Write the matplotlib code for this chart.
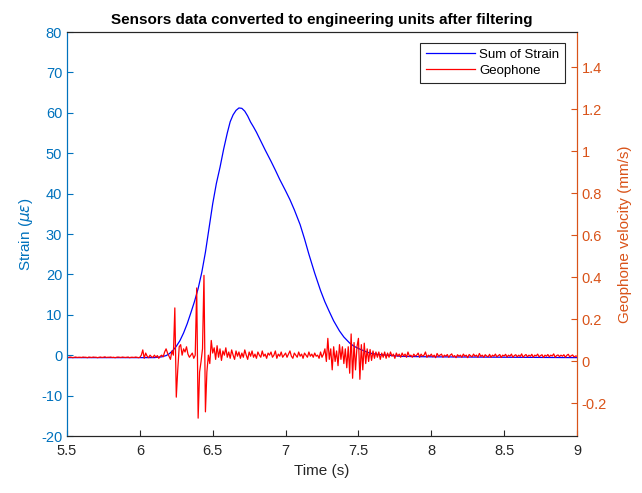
import numpy as np
import matplotlib
matplotlib.use("Agg")
import matplotlib.pyplot as plt
from matplotlib.ticker import FuncFormatter

plt.rcParams['font.family'] = ['Liberation Sans', 'DejaVu Sans']
plt.rcParams['axes.unicode_minus'] = False

# ---- data ----
strain_t = [5.50, 6.00, 6.10, 6.15, 6.18, 6.20, 6.225, 6.25, 6.275, 6.30, 6.325,
            6.35, 6.375, 6.40, 6.425, 6.45, 6.475, 6.50, 6.525, 6.55, 6.575,
            6.60, 6.62, 6.64, 6.66, 6.68, 6.70, 6.72, 6.74, 6.76, 6.78, 6.80,
            6.83, 6.86, 6.90, 6.93, 6.96, 7.00, 7.03, 7.06, 7.10, 7.13, 7.16,
            7.20, 7.24, 7.27, 7.30, 7.33, 7.37, 7.40, 7.44, 7.47, 7.51, 7.55,
            7.58, 7.63, 7.70, 7.80, 8.00, 8.50, 9.00]
strain_v = [-0.6, -0.6, -0.6, -0.4, -0.1, 0.3, 1.1, 2.2, 3.6, 5.5, 7.8,
            10.5, 13.3, 16.5, 20.5, 25.5, 31.5, 37.5, 42.5, 46.5, 51.0,
            55.0, 57.8, 59.5, 60.6, 61.2, 61.1, 60.4, 59.2, 57.7, 56.5, 55.2,
            53.0, 50.8, 48.0, 45.8, 43.5, 40.7, 38.5, 36.0, 32.3, 28.8, 25.0,
            20.3, 16.0, 13.2, 10.8, 8.5, 6.0, 4.5, 3.0, 2.2, 1.5, 0.9,
            0.5, 0.2, 0.0, -0.3, -0.4, -0.5, -0.6]

geo_t0 = 5.50
geo_dt = 0.01
geophone = [
    0.020, 0.019, 0.021, 0.020, 0.018, 0.020, 0.021, 0.019, 0.020, 0.020,   # 5.5
    0.019, 0.021, 0.020, 0.020, 0.018, 0.021, 0.020, 0.019, 0.021, 0.020,   # 5.6
    0.020, 0.018, 0.020, 0.021, 0.019, 0.020, 0.022, 0.019, 0.020, 0.020,   # 5.7
    0.021, 0.019, 0.020, 0.018, 0.020, 0.021, 0.020, 0.019, 0.021, 0.020,   # 5.8
    0.019, 0.020, 0.021, 0.018, 0.020, 0.020, 0.019, 0.021, 0.020, 0.018,   # 5.9
    0.020, 0.030, 0.055, 0.015, 0.040, 0.025, 0.018, 0.030, 0.022, 0.020,   # 6.0
    0.030, 0.020, 0.028, 0.015, 0.025, 0.030, 0.022, 0.045, 0.060, 0.040,   # 6.1
    0.025, 0.010, 0.050, 0.030, 0.255, -0.170, -0.040, 0.070, 0.080, 0.030, # 6.2
    0.060, 0.045, 0.070, 0.035, 0.020, 0.030, 0.040, 0.015, 0.030, 0.350,   # 6.3
    -0.270, -0.050, 0.000, 0.060, 0.410, -0.240, -0.050, 0.030, -0.010, 0.100, # 6.4
    0.040, 0.065, 0.010, 0.075, 0.020, 0.060, 0.005, 0.050, 0.030, 0.065,   # 6.5
    0.020, 0.045, 0.015, 0.055, 0.030, 0.010, 0.050, 0.025, 0.045, 0.015,   # 6.6
    0.040, 0.020, 0.055, 0.030, 0.010, 0.045, 0.025, 0.050, 0.020, 0.035,   # 6.7
    0.015, 0.045, 0.030, 0.020, 0.050, 0.025, 0.035, 0.015, 0.040, 0.030,   # 6.8
    0.045, 0.020, 0.030, 0.050, 0.015, 0.035, 0.025, 0.045, 0.020, 0.030,   # 6.9
    0.040, 0.020, 0.035, 0.050, 0.025, 0.015, 0.040, 0.030, 0.020, 0.045,   # 7.0
    0.025, 0.035, 0.015, 0.040, 0.030, 0.020, 0.045, 0.025, 0.035, 0.020,   # 7.1
    0.040, 0.025, 0.030, 0.015, 0.045, 0.020, 0.035, 0.060, 0.000, 0.110,   # 7.2
    0.010, 0.060, -0.040, 0.070, 0.000, 0.050, -0.020, 0.080, 0.010, 0.070, # 7.3
    -0.010, 0.060, -0.030, 0.070, -0.056, 0.131, -0.080, 0.090, -0.040, 0.070, # 7.4
    0.110, -0.085, 0.080, -0.040, 0.087, -0.010, 0.060, 0.000, 0.057, 0.005, # 7.5
    0.050, 0.015, 0.045, 0.020, 0.045, 0.010, 0.040, 0.020, 0.045, 0.015,   # 7.6
    0.040, 0.020, 0.045, 0.025, 0.035, 0.015, 0.040, 0.025, 0.035, 0.020,   # 7.7
    0.040, 0.025, 0.035, 0.020, 0.045, 0.025, 0.030, 0.020, 0.035, 0.025,   # 7.8
    0.030, 0.040, 0.020, 0.035, 0.025, 0.030, 0.045, 0.020, 0.030, 0.025,   # 7.9
    0.035, 0.022, 0.030, 0.018, 0.038, 0.025, 0.030, 0.035, 0.020, 0.030,   # 8.0
    0.025, 0.033, 0.020, 0.030, 0.036, 0.022, 0.028, 0.018, 0.032, 0.025,   # 8.1
    0.030, 0.020, 0.035, 0.025, 0.030, 0.018, 0.033, 0.027, 0.022, 0.035,   # 8.2
    0.025, 0.030, 0.020, 0.038, 0.024, 0.030, 0.020, 0.032, 0.026, 0.022,   # 8.3
    0.034, 0.020, 0.030, 0.025, 0.035, 0.022, 0.028, 0.033, 0.019, 0.030,   # 8.4
    0.026, 0.034, 0.021, 0.030, 0.025, 0.035, 0.020, 0.028, 0.032, 0.022,   # 8.5
    0.030, 0.024, 0.036, 0.020, 0.028, 0.033, 0.022, 0.030, 0.025, 0.034,   # 8.6
    0.020, 0.030, 0.026, 0.035, 0.022, 0.028, 0.032, 0.019, 0.030, 0.025,   # 8.7
    0.033, 0.022, 0.030, 0.026, 0.036, 0.020, 0.028, 0.031, 0.023, 0.030,   # 8.8
    0.025, 0.032, 0.020, 0.029, 0.034, 0.022, 0.027, 0.031, 0.021, 0.026,   # 8.9
    0.025,                                                                  # 9.0
]
geo_t = geo_t0 + geo_dt * np.arange(len(geophone))

left_ticks = [-20, -10, 0, 10, 20, 30, 40, 50, 60, 70, 80]
right_ticks = [-0.2, 0, 0.2, 0.4, 0.6, 0.8, 1.0, 1.2, 1.4]
x_ticks = [5.5, 6, 6.5, 7, 7.5, 8, 8.5, 9]

# ---- style ----
c_left = '#0072BD'
c_right = '#D95319'
c_axis = '#262626'

fig = plt.figure(figsize=(6.42, 4.93), dpi=100)
ax = fig.add_axes([67/642, 57/493, 510/642, 404/493])
ax2 = ax.twinx()

l1, = ax.plot(strain_t, strain_v, color='#0000FF', lw=0.9, label='Sum of Strain')
l2, = ax2.plot(geo_t, geophone, color='#FF0000', lw=0.9, label='Geophone')

ax.set_xlim(5.5, 9)
ax.set_ylim(-20, 80)
ax2.set_ylim(-0.355, 1.569)

ax.set_xticks(x_ticks)
ax.set_yticks(left_ticks)
ax2.set_yticks(right_ticks)
fmt = FuncFormatter(lambda v, p: '%g' % round(v, 6))
ax.xaxis.set_major_formatter(fmt)
ax.yaxis.set_major_formatter(fmt)
ax2.yaxis.set_major_formatter(fmt)

ax.tick_params(axis='x', direction='in', length=4, colors=c_axis, labelsize=10.5, pad=6)
ax.tick_params(axis='y', direction='in', length=4, colors=c_left, labelsize=10.5)
ax2.tick_params(axis='y', direction='in', length=4, colors=c_right, labelsize=10.5)

for s in ['top', 'bottom']:
    ax.spines[s].set_color(c_axis)
    ax2.spines[s].set_color(c_axis)
ax2.spines['left'].set_color(c_left)
ax.spines['left'].set_color(c_left)
ax2.spines['right'].set_color(c_right)
ax.spines['right'].set_color(c_right)
for a in (ax, ax2):
    for s in a.spines.values():
        s.set_linewidth(0.8)

ax.set_xlabel('Time (s)', fontsize=11, color=c_axis, labelpad=4)
ax.set_ylabel(r'Strain ($\mu\epsilon$)', fontsize=11, color=c_left, labelpad=4)
ax2.set_ylabel('Geophone velocity (mm/s)', fontsize=11, color=c_right, labelpad=8)
ax.set_title('Sensors data converted to engineering units after filtering',
             fontsize=11, fontweight='bold', color='black', pad=6)

leg = ax2.legend([l1, l2], ['Sum of Strain', 'Geophone'], loc='upper right',
                 bbox_to_anchor=(0.9765, 0.973), fontsize=9.5, fancybox=False,
                 framealpha=1, edgecolor=c_axis, borderpad=0.45, labelspacing=0.25,
                 handlelength=3.7, handletextpad=0.3, borderaxespad=0.0)
leg.get_frame().set_linewidth(0.8)

fig.savefig('out.png', dpi=100)
